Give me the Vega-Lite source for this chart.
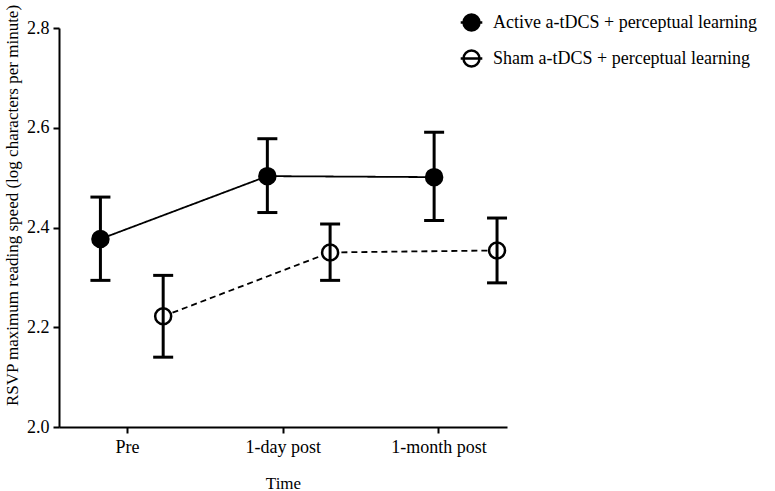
{
  "$schema": "https://vega.github.io/schema/vega-lite/v6.json",
  "width": 448,
  "height": 399,
  "autosize": "none",
  "padding": {"left": 59, "top": 28, "right": 268, "bottom": 64},
  "background": "white",
  "config": {
    "font": "Liberation Serif",
    "view": {"stroke": null},
    "axis": {
      "domainColor": "black", "domainWidth": 2, "tickColor": "black", "tickWidth": 2, "tickSize": 6,
      "labelFontSize": 18, "labelColor": "black", "titleFontSize": 17, "titleFontWeight": "normal",
      "titleColor": "black", "grid": false
    },
    "legend": {
      "labelFontSize": 18, "labelColor": "black", "labelLimit": 0, "symbolSize": 256, "symbolStrokeWidth": 2.5,
      "symbolStrokeColor": "black", "rowPadding": 9, "labelOffset": 12
    }
  },
  "data": {"values": [
    {"group": "Active a-tDCS + perceptual learning", "time": "Pre", "x": 0.829, "mean": 2.377, "lo": 2.294, "hi": 2.461},
    {"group": "Active a-tDCS + perceptual learning", "time": "1-day post", "x": 1.901, "mean": 2.503, "lo": 2.430, "hi": 2.578},
    {"group": "Active a-tDCS + perceptual learning", "time": "1-month post", "x": 2.972, "mean": 2.501, "lo": 2.414, "hi": 2.591},
    {"group": "Sham a-tDCS + perceptual learning", "time": "Pre", "x": 1.232, "mean": 2.222, "lo": 2.140, "hi": 2.304},
    {"group": "Sham a-tDCS + perceptual learning", "time": "1-day post", "x": 2.304, "mean": 2.350, "lo": 2.294, "hi": 2.407},
    {"group": "Sham a-tDCS + perceptual learning", "time": "1-month post", "x": 3.376, "mean": 2.354, "lo": 2.289, "hi": 2.419}
  ]},
  "encoding": {
    "x": {"field": "x", "type": "quantitative",
      "scale": {"domain": [0.563, 3.44], "nice": false, "zero": false},
      "axis": {"values": [1, 2, 3], "labelExpr": "datum.value == 1 ? 'Pre' : datum.value == 2 ? '1-day post' : '1-month post'",
        "title": "Time", "labelPadding": 5, "titleX": 224, "titleY": 61, "titleBaseline": "alphabetic", "labelFlush": false}}
  },
  "layer": [
    {
      "mark": {"type": "line", "color": "black", "strokeWidth": 1.8},
      "encoding": {
        "y": {"field": "mean", "type": "quantitative",
          "scale": {"domain": [2.0, 2.8], "nice": false, "zero": false},
          "axis": {"values": [2.0, 2.2, 2.4, 2.6, 2.8], "format": ".1f", "labelPadding": 4,
            "title": "RSVP maximum reading speed (log characters per minute)",
            "titleX": -42, "titleY": 177, "titleAngle": -90, "titleAlign": "center", "titleBaseline": "alphabetic"}},
        "detail": {"field": "group"},
        "strokeDash": {"field": "group", "type": "nominal",
          "scale": {"range": [[1, 0], [6, 4]]},
          "legend": null}
      }
    },
    {
      "mark": {"type": "point", "shape": "circle", "filled": true, "stroke": "black", "strokeWidth": 2.5, "size": 256, "opacity": 1},
      "encoding": {
        "y": {"field": "mean", "type": "quantitative"},
        "fill": {"field": "group", "type": "nominal",
          "scale": {"domain": ["Active a-tDCS + perceptual learning", "Sham a-tDCS + perceptual learning"], "range": ["black", "white"]},
          "legend": {"orient": "none", "legendX": 403, "legendY": -15, "title": null,
            "symbolType": "M-1,0A1,1,0,1,1,1,0A1,1,0,1,1,-1,0Z M-1.35,0L1.35,0"}}
      }
    },
    {
      "mark": {"type": "rule", "color": "black", "strokeWidth": 3},
      "encoding": {
        "y": {"field": "lo", "type": "quantitative"},
        "y2": {"field": "hi"}
      }
    },
    {
      "mark": {"type": "tick", "orient": "horizontal", "color": "black", "thickness": 3, "size": 20, "opacity": 1},
      "encoding": {"y": {"field": "lo", "type": "quantitative"}}
    },
    {
      "mark": {"type": "tick", "orient": "horizontal", "color": "black", "thickness": 3, "size": 20, "opacity": 1},
      "encoding": {"y": {"field": "hi", "type": "quantitative"}}
    }
  ]
}
